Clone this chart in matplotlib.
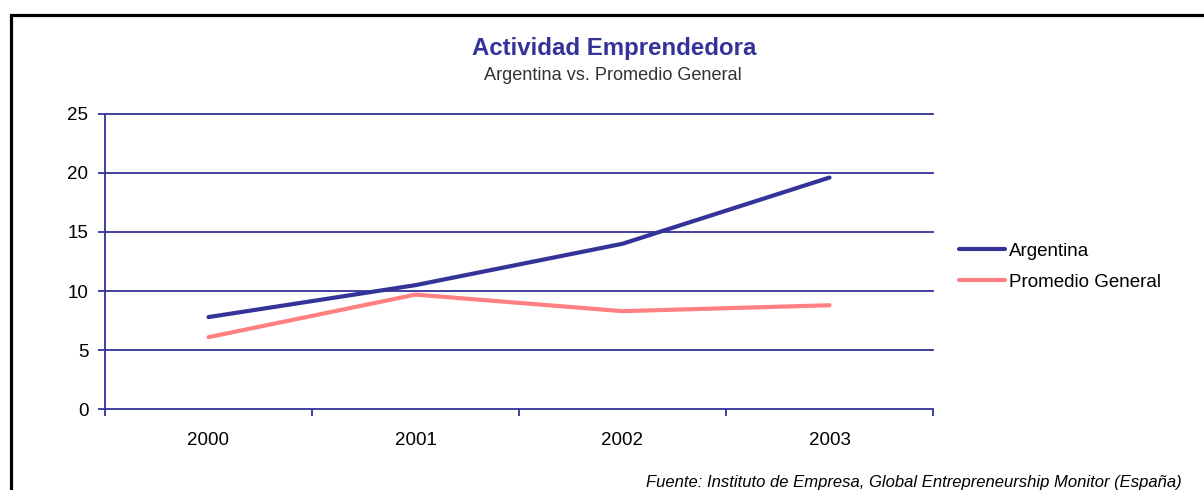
import numpy as np
import matplotlib
matplotlib.use("Agg")
import matplotlib.pyplot as plt
from matplotlib.patches import Rectangle

plt.rcParams['font.family'] = ['Liberation Sans', 'DejaVu Sans']

# data
years = ['2000', '2001', '2002', '2003']
argentina = [7.8, 10.5, 14.0, 19.6]
promedio = [6.1, 9.7, 8.3, 8.8]
yticks = [0, 5, 10, 15, 20, 25]

navy = '#333399'
salmon = '#FF8080'

fig = plt.figure(figsize=(12.04, 4.90), dpi=100)
ax = fig.add_axes([105/1204, 1 - 409.3/490, 828/1204, 295.6/490])

x = np.arange(len(years))
ax.plot(x, argentina, color=navy, lw=3.0, solid_capstyle='round', label='Argentina', zorder=3)
ax.plot(x, promedio, color=salmon, lw=3.0, solid_capstyle='round', label='Promedio General', zorder=3)

ax.set_xlim(-0.5, len(years) - 0.5)
ax.set_ylim(0, 25)
ax.set_yticks(yticks)
for v in yticks[1:]:
    ax.axhline(v, color=navy, lw=1.3, zorder=1, clip_on=False)

ax.set_xticks(x)
ax.set_xticklabels(years)
ax.set_xticks(np.arange(-0.5, len(years)), minor=True)
ax.tick_params(axis='x', which='major', length=0, pad=16, labelsize=13.5)
ax.tick_params(axis='x', which='minor', length=5, width=1.3, color=navy, direction='out')
ax.tick_params(axis='y', length=5, width=1.3, color=navy, pad=7, labelsize=13.5)

for s in ['top', 'right']:
    ax.spines[s].set_visible(False)
for s in ['left', 'bottom']:
    ax.spines[s].set_color(navy)
    ax.spines[s].set_linewidth(1.3)

leg = ax.legend(loc='center left', bbox_to_anchor=(951/828 - 105/828, (409.3 - 266.7)/295.6),
                frameon=False, fontsize=13.5, handlelength=2.5, handletextpad=0.2,
                labelspacing=0.75, borderaxespad=0)

fig.text(614/1204, 1 - 48/490, 'Actividad Emprendedora', ha='center', va='center',
         fontsize=17.3, fontweight='bold', color=navy)
fig.text(613/1204, 1 - 76/490, 'Argentina vs. Promedio General', ha='center', va='center',
         fontsize=13.1, color='#333333')
fig.text(1182/1204, 1 - 482/490, 'Fuente: Instituto de Empresa, Global Entrepreneurship Monitor (España)',
         ha='right', va='center', fontsize=12, style='italic', color='black')

# outer frame (only top and left visible in the crop)
fig.patches.append(Rectangle((11/1204, -0.2), 1.5, 1 - 15/490 + 0.2, transform=fig.transFigure,
                             fill=False, edgecolor='black', lw=2.3))

fig.savefig('out.png', dpi=100)
